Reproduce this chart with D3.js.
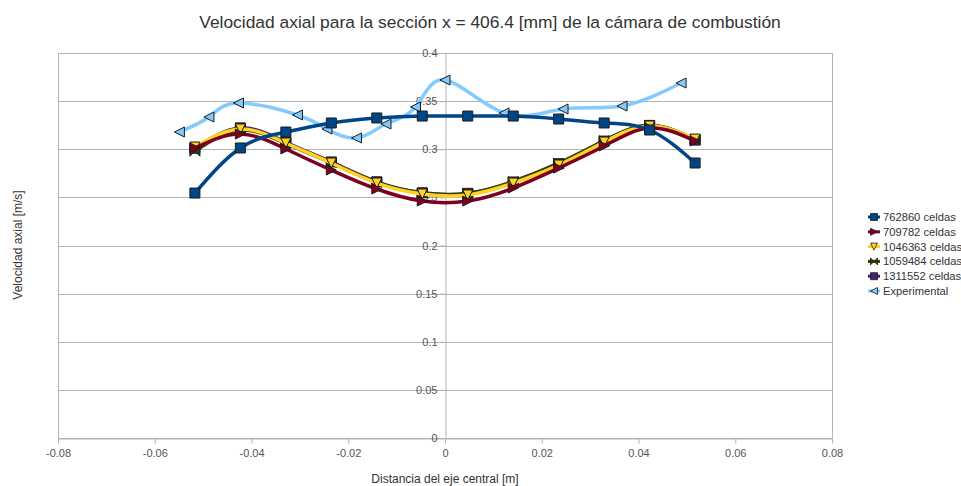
<!DOCTYPE html>
<html>
<head>
<meta charset="utf-8">
<script src="https://cdn.jsdelivr.net/npm/d3@7"></script>
<style>
  body { margin: 0; background: #fff; }
  svg { display: block; font-family: "Liberation Sans", Arial, sans-serif; }
</style>
</head>
<body>
<svg id="chart" width="961" height="486"></svg>
<script>
// Radial stations of the simulated meshes [m]
const meshX = [-0.0517, -0.0423, -0.0329, -0.0235, -0.0141, -0.0047, 0.0047, 0.0141, 0.0235, 0.0329, 0.0423, 0.0517];
// Axial velocity [m/s] for each mesh
const v762860  = [0.2545, 0.3013, 0.3179, 0.3273, 0.3325, 0.3345, 0.3345, 0.3345, 0.3314, 0.3273, 0.3200, 0.2857];
const v709782  = [0.3013, 0.3158, 0.3003, 0.2784, 0.2587, 0.2462, 0.2462, 0.2597, 0.2805, 0.3034, 0.3221, 0.3086];
const v1046363 = [0.3023, 0.3210, 0.3065, 0.2857, 0.2649, 0.2535, 0.2525, 0.2649, 0.2836, 0.3075, 0.3242, 0.3106];
const v1059484 = [0.2980, 0.3200, 0.3060, 0.2860, 0.2655, 0.2545, 0.2540, 0.2665, 0.2855, 0.3090, 0.3250, 0.3100];
const v1311552 = [0.3010, 0.3222, 0.3072, 0.2868, 0.2662, 0.2548, 0.2542, 0.2660, 0.2850, 0.3085, 0.3248, 0.3095];
// Measured profile
const expX = [-0.0549, -0.0488, -0.0427, -0.0305, -0.0244, -0.0183, -0.0122, -0.0061, 0, 0.0122, 0.0244, 0.0366, 0.0488];
const vExp = [0.3179, 0.3335, 0.3481, 0.3356, 0.3210, 0.3117, 0.3262, 0.3439, 0.3719, 0.3377, 0.3418, 0.3449, 0.3688];

const xTicks = [-0.08, -0.06, -0.04, -0.02, 0, 0.02, 0.04, 0.06, 0.08];
const yTicks = [0, 0.05, 0.1, 0.15, 0.2, 0.25, 0.3, 0.35, 0.4];

const seriesNames = ["762860 celdas", "709782 celdas", "1046363 celdas", "1059484 celdas", "1311552 celdas", "Experimental"];
const seriesColors = ["#004586", "#7e0021", "#ffd320", "#314004", "#4b1f6f", "#83caff"];
const seriesShapes = ["square", "right", "down", "bowtie", "square", "left"];

const series = [
  { xs: meshX, ys: v762860 },
  { xs: meshX, ys: v709782 },
  { xs: meshX, ys: v1046363 },
  { xs: meshX, ys: v1059484 },
  { xs: meshX, ys: v1311552 },
  { xs: expX,  ys: vExp }
].map((s, i) => ({
  name: seriesNames[i], color: seriesColors[i], shape: seriesShapes[i],
  points: s.xs.map((xv, j) => ({ x: xv, y: s.ys[j] }))
}));

const svg = d3.select("#chart");
const plotL = 58, plotR = 832, plotT = 53, plotB = 438;
const x = d3.scaleLinear().domain([-0.08, 0.08]).range([plotL, plotR]);
const y = d3.scaleLinear().domain([0, 0.4]).range([plotB, plotT]);
const fmt = d => String(+d.toFixed(4));
const grey = "#b3b3b3";
const textCol = "#555";

// Horizontal gridlines
svg.append("g").selectAll("line").data(yTicks).join("line")
  .attr("x1", plotL).attr("x2", plotR)
  .attr("y1", d => Math.round(y(d)) + 0.5).attr("y2", d => Math.round(y(d)) + 0.5)
  .attr("stroke", grey).attr("stroke-width", 1);

// Plot frame sides
svg.append("line").attr("x1", plotL + 0.5).attr("x2", plotL + 0.5).attr("y1", plotT).attr("y2", plotB)
  .attr("stroke", grey);
svg.append("line").attr("x1", plotR + 0.5).attr("x2", plotR + 0.5).attr("y1", plotT).attr("y2", plotB)
  .attr("stroke", grey);

// X axis along the bottom
const xAxis = svg.append("g").attr("transform", `translate(0,${Math.round(plotB) + 0.5})`)
  .call(d3.axisBottom(x).tickValues(xTicks).tickFormat(fmt).tickSize(5).tickSizeOuter(0).tickPadding(6));
xAxis.select(".domain").attr("stroke", grey);
xAxis.selectAll(".tick line").attr("stroke", grey);
xAxis.selectAll(".tick text").attr("fill", textCol).attr("font-size", 11)
  .attr("font-family", "'Liberation Sans', Arial, sans-serif");

// Y axis crossing at x = 0
const yAxis = svg.append("g").attr("transform", `translate(${Math.round(x(0)) + 0.5},0)`)
  .call(d3.axisLeft(y).tickValues(yTicks).tickFormat(fmt).tickSize(5).tickSizeOuter(0).tickPadding(3));
yAxis.select(".domain").attr("stroke", grey);
yAxis.selectAll(".tick line").attr("stroke", grey);
yAxis.selectAll(".tick text").attr("fill", textCol).attr("font-size", 11)
  .attr("font-family", "'Liberation Sans', Arial, sans-serif");

// Marker shapes
function markerPath(shape, s) {
  const h = s / 2;
  switch (shape) {
    case "square": return `M${-h},${-h}H${h}V${h}H${-h}Z`;
    case "right":  return `M${-h},${-h}L${h},0L${-h},${h}Z`;
    case "left":   return `M${h},${-h}L${-h},0L${h},${h}Z`;
    case "down":   return `M${-h},${-h}H${h}L0,${h}Z`;
    case "bowtie": return `M${-h},${-h}L${h},${h}V${-h}L${-h},${h}Z`;
  }
}

const line = d3.line().x(d => x(d.x)).y(d => y(d.y)).curve(d3.curveNatural);

// Draw last series first so the first one stays on top
const plot = svg.append("g");
series.slice().reverse().forEach(s => {
  plot.append("path").attr("d", line(s.points))
    .attr("fill", "none").attr("stroke", s.color).attr("stroke-width", 3.5)
    .attr("stroke-linejoin", "round").attr("stroke-linecap", "round");
  plot.append("g").selectAll("path").data(s.points).join("path")
    .attr("transform", d => `translate(${x(d.x)},${y(d.y)})`)
    .attr("d", markerPath(s.shape, 10))
    .attr("fill", s.color).attr("stroke", "#1c1c1c").attr("stroke-width", 1);
});

// Title and axis titles
svg.append("text").attr("x", 490).attr("y", 28).attr("text-anchor", "middle")
  .attr("font-size", 17.4).attr("fill", "#333")
  .text("Velocidad axial para la sección x = 406.4 [mm] de la cámara de combustión");
svg.append("text").attr("x", 445).attr("y", 483).attr("text-anchor", "middle")
  .attr("font-size", 12).attr("fill", "#333").text("Distancia del eje central [m]");
svg.append("text").attr("transform", "translate(22,245) rotate(-90)").attr("text-anchor", "middle")
  .attr("font-size", 12).attr("fill", "#333").text("Velocidad axial [m/s]");

// Legend
const legend = svg.append("g").attr("transform", "translate(868,217)");
series.forEach((s, i) => {
  const g = legend.append("g").attr("transform", `translate(0,${i * 14.8})`);
  g.append("line").attr("x1", 0).attr("x2", 12).attr("y1", 0).attr("y2", 0)
    .attr("stroke", s.color).attr("stroke-width", 3);
  g.append("path").attr("transform", "translate(6,0)").attr("d", markerPath(s.shape, 7))
    .attr("fill", s.color).attr("stroke", "#1c1c1c").attr("stroke-width", 0.8);
  g.append("text").attr("x", 15).attr("y", 4).attr("font-size", 11.2).attr("fill", "#333").text(s.name);
});
</script>
</body>
</html>
